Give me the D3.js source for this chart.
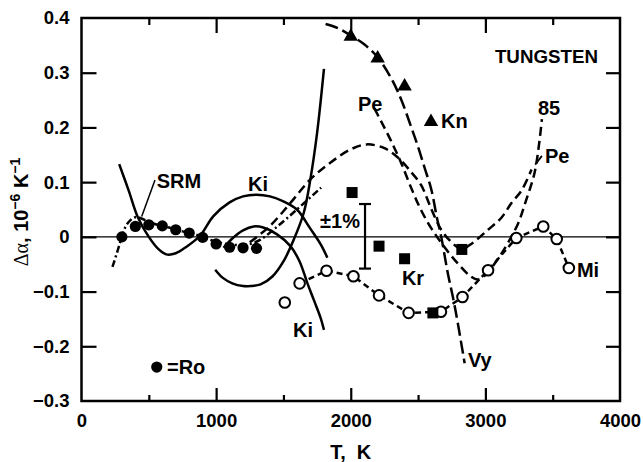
<!DOCTYPE html>
<html><head><meta charset="utf-8">
<script src="https://cdn.jsdelivr.net/npm/d3@7"></script>
<style>
html,body{margin:0;padding:0;background:#fff;}
text{font-family:"Liberation Sans",Arial,sans-serif;font-weight:bold;fill:#000;}
</style></head>
<body>
<svg id="chart" width="643" height="462"></svg>
<script>
// ---- data ----
const xTicksMajor = [0, 1000, 2000, 3000, 4000];
const xTicksMinor = [500, 1500, 2500, 3500];
const yTicks = [-0.3, -0.2, -0.1, 0, 0.1, 0.2, 0.3, 0.4];

// Ro (filled circles) and its dash-dot fit
const roT = [300, 400, 500, 600, 700, 800, 900, 1000, 1100, 1200, 1300];
const roV = [0.0, 0.019, 0.022, 0.02, 0.013, 0.007, -0.001, -0.013, -0.019, -0.02, -0.021];
const roCurveT = [230, 265, 300, 340, 400, 470, 550, 650, 750, 850, 950, 1050, 1150, 1250, 1330, 1450, 1600, 1780];
const roCurveV = [-0.055, -0.028, 0.0, 0.024, 0.036, 0.031, 0.023, 0.017, 0.01, 0.004, -0.005, -0.012, -0.015, -0.013, -0.005, 0.018, 0.05, 0.09];

// SRM / upper Ki solid curve
const srmT = [280, 350, 420, 500, 570, 630, 700, 780, 880, 980, 1100, 1200, 1300, 1400, 1500, 1600, 1700, 1780, 1826];
const srmV = [0.133, 0.085, 0.035, 0.0, -0.022, -0.032, -0.03, -0.018, 0.002, 0.038, 0.063, 0.074, 0.077, 0.074, 0.065, 0.05, 0.015, -0.015, -0.038];

// Ki solid curves
const kiLoopT = [993, 1050, 1120, 1200, 1254, 1330, 1420, 1500, 1577, 1651, 1700, 1750, 1801];
const kiLoopV = [-0.06, -0.075, -0.085, -0.09, -0.09, -0.087, -0.072, -0.045, -0.005, 0.044, 0.105, 0.19, 0.307];
const kiArcT = [1055, 1120, 1200, 1279, 1350, 1450, 1552, 1620, 1677, 1730, 1776, 1801];
const kiArcV = [-0.02, -0.003, 0.012, 0.019, 0.017, 0.005, -0.017, -0.045, -0.084, -0.118, -0.148, -0.17];

// Vy long-dash curve and Kn triangles
const vyT = [1813, 1900, 2000, 2100, 2200, 2300, 2373, 2450, 2498, 2550, 2597, 2640, 2672, 2720, 2771, 2846];
const vyV = [0.389, 0.382, 0.368, 0.352, 0.328, 0.29, 0.252, 0.2, 0.166, 0.125, 0.088, 0.035, 0.0, -0.065, -0.125, -0.231];
const knT = [2000, 2200, 2400];
const knV = [0.368, 0.328, 0.277];

// Pe (hump) dashed curve
const peAT = [1250, 1400, 1552, 1700, 1851, 2000, 2120, 2250, 2350, 2450, 2522, 2600, 2672, 2750, 2821, 2900, 3020, 3119, 3194, 3269, 3343];
const peAV = [-0.01, 0.02, 0.062, 0.105, 0.136, 0.16, 0.169, 0.162, 0.145, 0.118, 0.095, 0.05, 0.013, -0.01, -0.022, -0.012, 0.013, 0.035, 0.062, 0.085, 0.123];

// Pe / 85 dashed curve
const peBT = [2175, 2224, 2300, 2373, 2448, 2520, 2600, 2700, 2800, 2890, 2945, 3000, 3094, 3170, 3244, 3300, 3368, 3420];
const peBV = [0.235, 0.212, 0.175, 0.136, 0.09, 0.05, 0.015, -0.02, -0.05, -0.072, -0.078, -0.07, -0.04, -0.01, 0.025, 0.065, 0.12, 0.215];

// Mi (open circles)
const miT = [1510, 1620, 1820, 2020, 2210, 2430, 2670, 2830, 3020, 3230, 3430, 3530, 3620];
const miV = [-0.12, -0.085, -0.062, -0.072, -0.107, -0.139, -0.137, -0.11, -0.061, -0.002, 0.019, -0.004, -0.057];

// Kr (filled squares)
const krT = [2010, 2210, 2400, 2610, 2825];
const krV = [0.081, -0.017, -0.04, -0.139, -0.023];

// ±1% error bar
const errT = 2106;
const errRange = [-0.058, 0.06];

// ---- drawing ----
const svg = d3.select("#chart");
const x = d3.scaleLinear().domain([0, 4000]).range([81.5, 620]);
const y = d3.scaleLinear().domain([-0.3, 0.4]).range([401, 18]);
const X0 = x(0), X1 = x(4000), Y0 = y(-0.3), Y1 = y(0.4);

const zip = (ts, vs) => ts.map((t, i) => [t, vs[i]]);
const smooth = d3.line().x(d => x(d[0])).y(d => y(d[1])).curve(d3.curveCatmullRom.alpha(0.5));
const straight = d3.line().x(d => x(d[0])).y(d => y(d[1]));

// zero line
svg.append("line").attr("x1", X0).attr("x2", X1).attr("y1", y(0)).attr("y2", y(0))
  .attr("stroke", "#000").attr("stroke-width", 1.2);

// axes (inward ticks)
const fmtY = d => d === 0 ? "0" : d3.format(".1f")(d);
svg.append("g").attr("transform", `translate(0,${Y0})`)
  .call(d3.axisBottom(x).tickValues(xTicksMajor.slice(1, 4)).tickSize(-13).tickSizeOuter(0).tickFormat(""));
svg.append("g").attr("transform", `translate(0,${Y0})`)
  .call(d3.axisBottom(x).tickValues(xTicksMinor).tickSize(-6).tickSizeOuter(0).tickFormat(""));
svg.append("g").attr("transform", `translate(0,${Y1})`)
  .call(d3.axisTop(x).tickValues(xTicksMajor.slice(1, 4)).tickSize(-15).tickSizeOuter(0).tickFormat(""));
svg.append("g").attr("transform", `translate(0,${Y1})`)
  .call(d3.axisTop(x).tickValues(xTicksMinor).tickSize(-7).tickSizeOuter(0).tickFormat(""));
svg.append("g").attr("transform", `translate(${X0},0)`)
  .call(d3.axisLeft(y).tickValues(yTicks.slice(1, 7)).tickSize(-15).tickSizeOuter(0).tickFormat(""));
svg.append("g").attr("transform", `translate(${X1},0)`)
  .call(d3.axisRight(y).tickValues(yTicks.slice(1, 7)).tickSize(-14).tickSizeOuter(0).tickFormat(""));
svg.selectAll(".domain").remove();
svg.selectAll(".tick line").attr("stroke", "#000").attr("stroke-width", 2.2);

// tick labels
const xl = svg.append("g").attr("transform", `translate(0,${Y0})`)
  .call(d3.axisBottom(x).tickValues(xTicksMajor).tickSize(0).tickPadding(13).tickFormat(d3.format("d")));
xl.select(".domain").remove();
xl.selectAll("text").attr("font-size", 18.5).attr("font-family", "Liberation Sans, Arial, sans-serif").attr("font-weight", "bold");
const yl = svg.append("g").attr("transform", `translate(${X0},0)`)
  .call(d3.axisLeft(y).tickValues(yTicks).tickSize(0).tickPadding(12).tickFormat(fmtY));
yl.select(".domain").remove();
yl.selectAll("text").attr("font-size", 18.5).attr("font-family", "Liberation Sans, Arial, sans-serif").attr("font-weight", "bold");

// frame
svg.append("rect").attr("x", X0).attr("y", Y1).attr("width", X1 - X0).attr("height", Y0 - Y1)
  .attr("fill", "none").attr("stroke", "#000").attr("stroke-width", 2.5);

// curves
const curveG = svg.append("g").attr("fill", "none").attr("stroke", "#000").attr("stroke-width", 2.5);
curveG.append("path").attr("d", smooth(zip(srmT, srmV)));
curveG.append("path").attr("d", smooth(zip(kiLoopT, kiLoopV)));
curveG.append("path").attr("d", smooth(zip(kiArcT, kiArcV)));
curveG.append("path").attr("d", smooth(zip(roCurveT, roCurveV))).attr("stroke-dasharray", "7,3,2,3");
curveG.append("path").attr("d", smooth(zip(vyT, vyV))).attr("stroke-dasharray", "13,5");
curveG.append("path").attr("d", smooth(zip(peAT, peAV))).attr("stroke-dasharray", "9,5");
curveG.append("path").attr("d", smooth(zip(peBT, peBV))).attr("stroke-dasharray", "9,5");
curveG.append("path").attr("d", straight(zip(miT, miV).slice(1))).attr("stroke-dasharray", "6,4");

// SRM leader & Pe leader
curveG.append("path").attr("stroke-width", 1.5).attr("d", straight([[546, 0.104], [447, 0.037]]));
curveG.append("path").attr("stroke-width", 1.7).attr("d", straight([[3370, 0.132], [3420, 0.148]]));

// error bar
const eb = svg.append("g").attr("stroke", "#000").attr("stroke-width", 2.2);
eb.append("line").attr("x1", x(errT)).attr("x2", x(errT)).attr("y1", y(errRange[0])).attr("y2", y(errRange[1]));
errRange.forEach(v => eb.append("line").attr("x1", x(errT) - 6).attr("x2", x(errT) + 6).attr("y1", y(v)).attr("y2", y(v)));

// markers
svg.append("g").selectAll("circle").data(zip(roT, roV)).join("circle")
  .attr("cx", d => x(d[0])).attr("cy", d => y(d[1])).attr("r", 5.6).attr("fill", "#000");
svg.append("g").selectAll("circle").data(zip(miT, miV)).join("circle")
  .attr("cx", d => x(d[0])).attr("cy", d => y(d[1])).attr("r", 5.3).attr("fill", "#fff")
  .attr("stroke", "#000").attr("stroke-width", 2);
svg.append("g").selectAll("rect").data(zip(krT, krV)).join("rect")
  .attr("x", d => x(d[0]) - 5.5).attr("y", d => y(d[1]) - 5.5).attr("width", 11).attr("height", 11).attr("fill", "#000");
const tri = d3.symbol().type(d3.symbolTriangle).size(90);
svg.append("g").selectAll("path").data(zip(knT, knV)).join("path")
  .attr("transform", d => `translate(${x(d[0])},${y(d[1]) + 1})`).attr("d", tri).attr("fill", "#000");

// legend-like markers
svg.append("path").attr("transform", `translate(${x(2596)},${y(0.212) + 1})`).attr("d", tri).attr("fill", "#000");
svg.append("circle").attr("cx", x(559)).attr("cy", y(-0.238)).attr("r", 5.6).attr("fill", "#000");

// labels
const labels = [
  {t: "SRM", T: 559, v: 0.089, a: "start"},
  {t: "Ki", T: 1311, v: 0.084, a: "middle"},
  {t: "Ki", T: 1645, v: -0.183, a: "middle"},
  {t: "Pe", T: 2054, v: 0.23, a: "start"},
  {t: "Kn", T: 2670, v: 0.199, a: "start"},
  {t: "Kr", T: 2380, v: -0.088, a: "start"},
  {t: "Vy", T: 2871, v: -0.237, a: "start"},
  {t: "Mi", T: 3680, v: -0.073, a: "start"},
  {t: "85", T: 3391, v: 0.223, a: "start"},
  {t: "Pe", T: 3443, v: 0.135, a: "start"},
  {t: "=Ro", T: 635, v: -0.251, a: "start"},
  {t: "±1%", T: 1920, v: 0.016, a: "middle"}
];
svg.append("g").selectAll("text").data(labels).join("text")
  .attr("x", d => x(d.T)).attr("y", d => y(d.v)).attr("text-anchor", d => d.a)
  .attr("font-size", 20).text(d => d.t);

svg.append("text").attr("x", x(3071)).attr("y", y(0.318)).attr("font-size", 18.5)
  .attr("textLength", 103).attr("lengthAdjust", "spacingAndGlyphs").text("TUNGSTEN");

// axis titles
svg.append("text").attr("x", x(2000)).attr("y", 459).attr("text-anchor", "middle")
  .attr("font-size", 20).attr("xml:space", "preserve").style("white-space", "pre").text("T,  K");

const yt = svg.append("text").attr("transform", "translate(28,212) rotate(-90)")
  .attr("text-anchor", "middle").attr("font-size", 20);
yt.append("tspan").attr("font-weight", "normal").attr("font-family", "Liberation Serif, Times New Roman, serif").text("Δα");
yt.append("tspan").text(", 10");
yt.append("tspan").attr("baseline-shift", "super").attr("font-size", 14).text("−6");
yt.append("tspan").text(" K");
yt.append("tspan").attr("baseline-shift", "super").attr("font-size", 14).text("−1");
</script>
</body></html>
